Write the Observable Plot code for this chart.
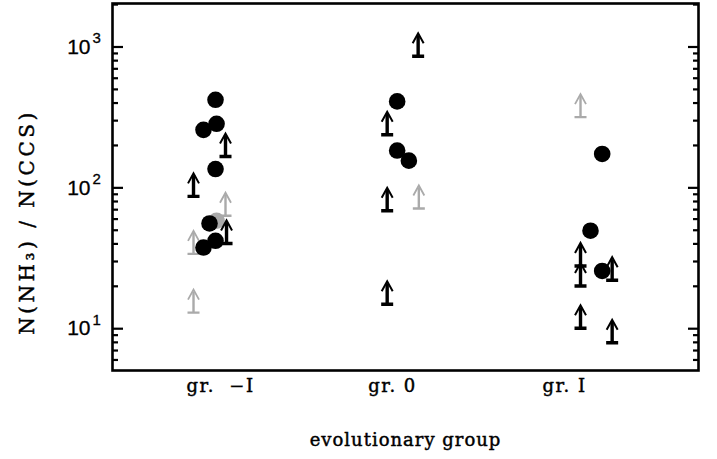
<!DOCTYPE html>
<html><head><meta charset="utf-8">
<script src="https://cdn.jsdelivr.net/npm/d3@7"></script>
<script src="https://cdn.jsdelivr.net/npm/@observablehq/plot@0.6"></script>
<style>
body{margin:0;background:#fff}
svg{display:block}
g[aria-label="x-axis tick label"] text{letter-spacing:1.5px;stroke:#000;stroke-width:0.45px}
g[aria-label="y-axis tick label"] text{stroke:#000;stroke-width:0.3px}
g.ylab text{letter-spacing:3.5px;stroke:#000;stroke-width:0.45px}
g.xlab text{letter-spacing:1px;stroke:#000;stroke-width:0.45px}
g.yexp text{stroke:#000;stroke-width:0.3px}
</style>
</head><body><div id="chart"></div>
<script>
// group positions and tick labels
const groupPos = [-1, 0, 1];
const groupLabels = ["gr.\u00a0 \u2212I", "gr. 0", "gr. I"];
const majorTicks = [10, 100, 1000];
const majorExponents = ["1", "2", "3"];
const minorTicks = [6, 7, 8, 9, 20, 30, 40, 50, 60, 70, 80, 90, 200, 300, 400, 500, 600, 700, 800, 900, 2000];

// detections (black filled circles)
const detX = [-1.029, -1.023, -1.099, -1.029, -1.064, -1.029, -1.099, 0.027, 0.027, 0.095, 1.219, 1.151, 1.219];
const detY = [422, 285, 258, 136, 55.9, 42.1, 37.7, 411, 184, 156, 174, 49.6, 25.7];
// detections (grey circle)
const detGrayX = [-1.023];
const detGrayY = [58.4];
// lower limits (black arrows)
const limX = [-0.971, -1.157, -0.965, 0.149, -0.031, -0.031, -0.031, 1.093, 1.093, 1.277, 1.093, 1.277];
const limY = [167, 87, 40.3, 859, 238, 68.8, 14.9, 27.9, 20.1, 22.1, 10.07, 7.94];
// lower limits (grey arrows)
const limGrayX = [-0.971, -1.157, -1.157, 0.153, 1.093];
const limGrayY = [63.4, 34, 13.0, 71.4, 318];

const arrowBody = {draw(c) { c.moveTo(-6, 0); c.lineTo(6, 0); c.moveTo(0, 0); c.lineTo(0, -21); }};
const arrowHead = {draw(c) { c.moveTo(-5.5, -13); c.lineTo(0, -23); c.lineTo(5.5, -13); }};

const serif = "DejaVu Serif";
const sans = "Liberation Sans";

const chart = Plot.plot({
  width: 717, height: 459,
  marginLeft: 112, marginRight: 19, marginTop: 3, marginBottom: 89,
  style: {background: "#fff", color: "#000", overflow: "visible"},
  x: {type: "linear", domain: [-1.628, 1.779]},
  y: {type: "log", domain: [5.05, 2036]},
  marks: [
    Plot.axisX(groupPos, {anchor: "bottom", tickSize: 0, tickPadding: 9, tickFormat: d => groupLabels[groupPos.indexOf(d)], fontSize: 18, fontFamily: serif, label: null}),
    Plot.axisY(majorTicks, {anchor: "left", tickSize: 0, tickPadding: 22, tickFormat: () => "10", fontSize: 21, fontFamily: sans, label: null}),
    Plot.text(majorTicks, {y: d => d, text: (d, i) => majorExponents[i], frameAnchor: "left", dx: -20, dy: -9, textAnchor: "start", lineAnchor: "middle", fontSize: 15, fontFamily: sans, className: "yexp"}),
    Plot.axisY(majorTicks, {anchor: "left", tickSize: -11, tickFormat: () => "", strokeWidth: 2.2, label: null}),
    Plot.axisY(minorTicks, {anchor: "left", tickSize: -6, tickFormat: () => "", strokeWidth: 2.2, label: null}),
    Plot.axisY(majorTicks, {anchor: "right", tickSize: -11, tickFormat: () => "", strokeWidth: 2.2, label: null}),
    Plot.axisY(minorTicks, {anchor: "right", tickSize: -6, tickFormat: () => "", strokeWidth: 2.2, label: null}),
    Plot.text(["N(NH\u2083) / N(CCS)"], {frameAnchor: "left", rotate: -90, dx: -85, dy: 35, textAnchor: "middle", lineAnchor: "middle", fontSize: 20, fontFamily: serif, className: "ylab"}),
    Plot.text(["evolutionary group"], {frameAnchor: "bottom", dy: 70, textAnchor: "middle", lineAnchor: "middle", fontSize: 18, fontFamily: serif, className: "xlab"}),
    // grey lower limits
    Plot.dot(limGrayY, {x: limGrayX, y: limGrayY, symbol: arrowBody, r: 5, fill: "none", stroke: "#aaa", strokeWidth: 2.4}),
    Plot.dot(limGrayY, {x: limGrayX, y: limGrayY, symbol: arrowHead, r: 5, fill: "none", stroke: "#aaa", strokeWidth: 1.8}),
    // grey detection
    Plot.dot(detGrayY, {x: detGrayX, y: detGrayY, r: 8.3, fill: "#aaa", stroke: "none"}),
    // black detections
    Plot.dot(detY, {x: detX, y: detY, r: 8.3, fill: "#000", stroke: "none"}),
    // black lower limits
    Plot.dot(limY, {x: limX, y: limY, symbol: arrowBody, r: 5, fill: "none", stroke: "#000", strokeWidth: 3.4}),
    Plot.dot(limY, {x: limX, y: limY, symbol: arrowHead, r: 5, fill: "none", stroke: "#000", strokeWidth: 2}),
    Plot.frame({stroke: "#000", strokeWidth: 2.6})
  ]
});
document.getElementById("chart").appendChild(chart);
</script>
</body></html>
